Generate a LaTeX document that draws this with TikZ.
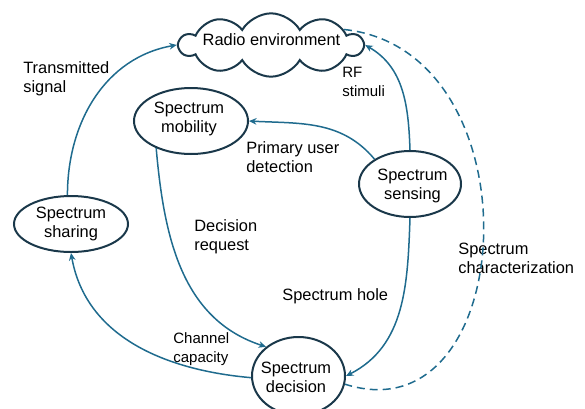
\documentclass[tikz,border=0pt]{standalone}
\usepackage{fontspec}
\setmainfont{Liberation Sans}
\usetikzlibrary{shapes.geometric,shapes.symbols,arrows.meta}
\definecolor{conncol}{RGB}{31,107,142}
\definecolor{nodeline}{RGB}{26,56,74}
\begin{document}
\begin{tikzpicture}[x=0.6pt,y=-0.6pt,
  ell/.style={ellipse, draw=nodeline, line width=1.2pt, inner sep=0pt},
  txt/.style={font=\fontsize{9.84}{11.4}\selectfont, align=center, inner sep=0pt},
  lbl/.style={font=\fontsize{9.84}{11.4}\selectfont, align=left, inner sep=0pt, anchor=west},
  slbl/.style={font=\fontsize{9}{11.4}\selectfont, align=left, inner sep=0pt, anchor=west},
  conn/.style={draw=conncol, line width=0.9pt, -{Stealth[length=4.5pt,width=4pt]}},
  dconn/.style={draw=conncol, line width=0.9pt, dash pattern=on 4.8pt off 3pt},
]
\useasboundingbox (0,0) rectangle (585,408);

% nodes
\node (cloud) [cloud, draw=nodeline, line width=1.2pt, cloud puffs=10, cloud puff arc=120,
  aspect=3, minimum width=109.8pt, minimum height=38pt, inner sep=0pt] at (271,45) {};
\node[txt, anchor=base] (cloudT) at (271.5,45) {Radio environment};

\node[ell, minimum width=68.4pt, minimum height=39.6pt] (mob) at (191,121) {};
\node[txt] (mobT) at (189,118.5) {Spectrum\\mobility};

\node[ell, minimum width=61.2pt, minimum height=39.6pt] (sen) at (410,184) {};
\node[txt] (senT) at (412.5,186) {Spectrum\\sensing};

\node[ell, minimum width=68.4pt, minimum height=33.6pt] (sha) at (71,224) {};
\node[txt] (shaT) at (71,224) {Spectrum\\sharing};

\node[ell, minimum width=55.8pt, minimum height=46.8pt] (dec) at (298.5,376) {};
\node[txt] (decT) at (296,377) {Spectrum\\decision};

% labels
\node[lbl] (l1) at (23,78.5) {Transmitted\\signal};
\node[slbl] (l2) at (342,82) {RF\\stimuli};
\node[lbl] (l3) at (246,157.5) {Primary user\\detection};
\node[lbl] (l4) at (194,236.5) {Decision\\request};
\node[lbl] (l5) at (282,296) {Spectrum hole};
\node[lbl] (l6) at (458,258.5) {Spectrum\\characterization};
\node[slbl] (l7) at (173,349) {Channel\\capacity};

% connectors
\draw[conn] (sha.97) to[out=90,in=190] (cloud.west);
\draw[conn] (sen.north) to[out=92,in=-30] (cloud.east);
\draw[conn] (sen.145) to[out=130,in=-3] (mob.east);
\draw[conn] (mob.218) to[out=-85,in=162] (dec.138);
\draw[conn] (sen.south) to[out=-92,in=27] (dec.east);
\draw[conn] (dec.182) to[out=175,in=-80] (sha.south);
\draw[dconn] (cloud.12) .. controls (540,50) and (520,440) .. (dec.-10);
\end{tikzpicture}
\end{document}
